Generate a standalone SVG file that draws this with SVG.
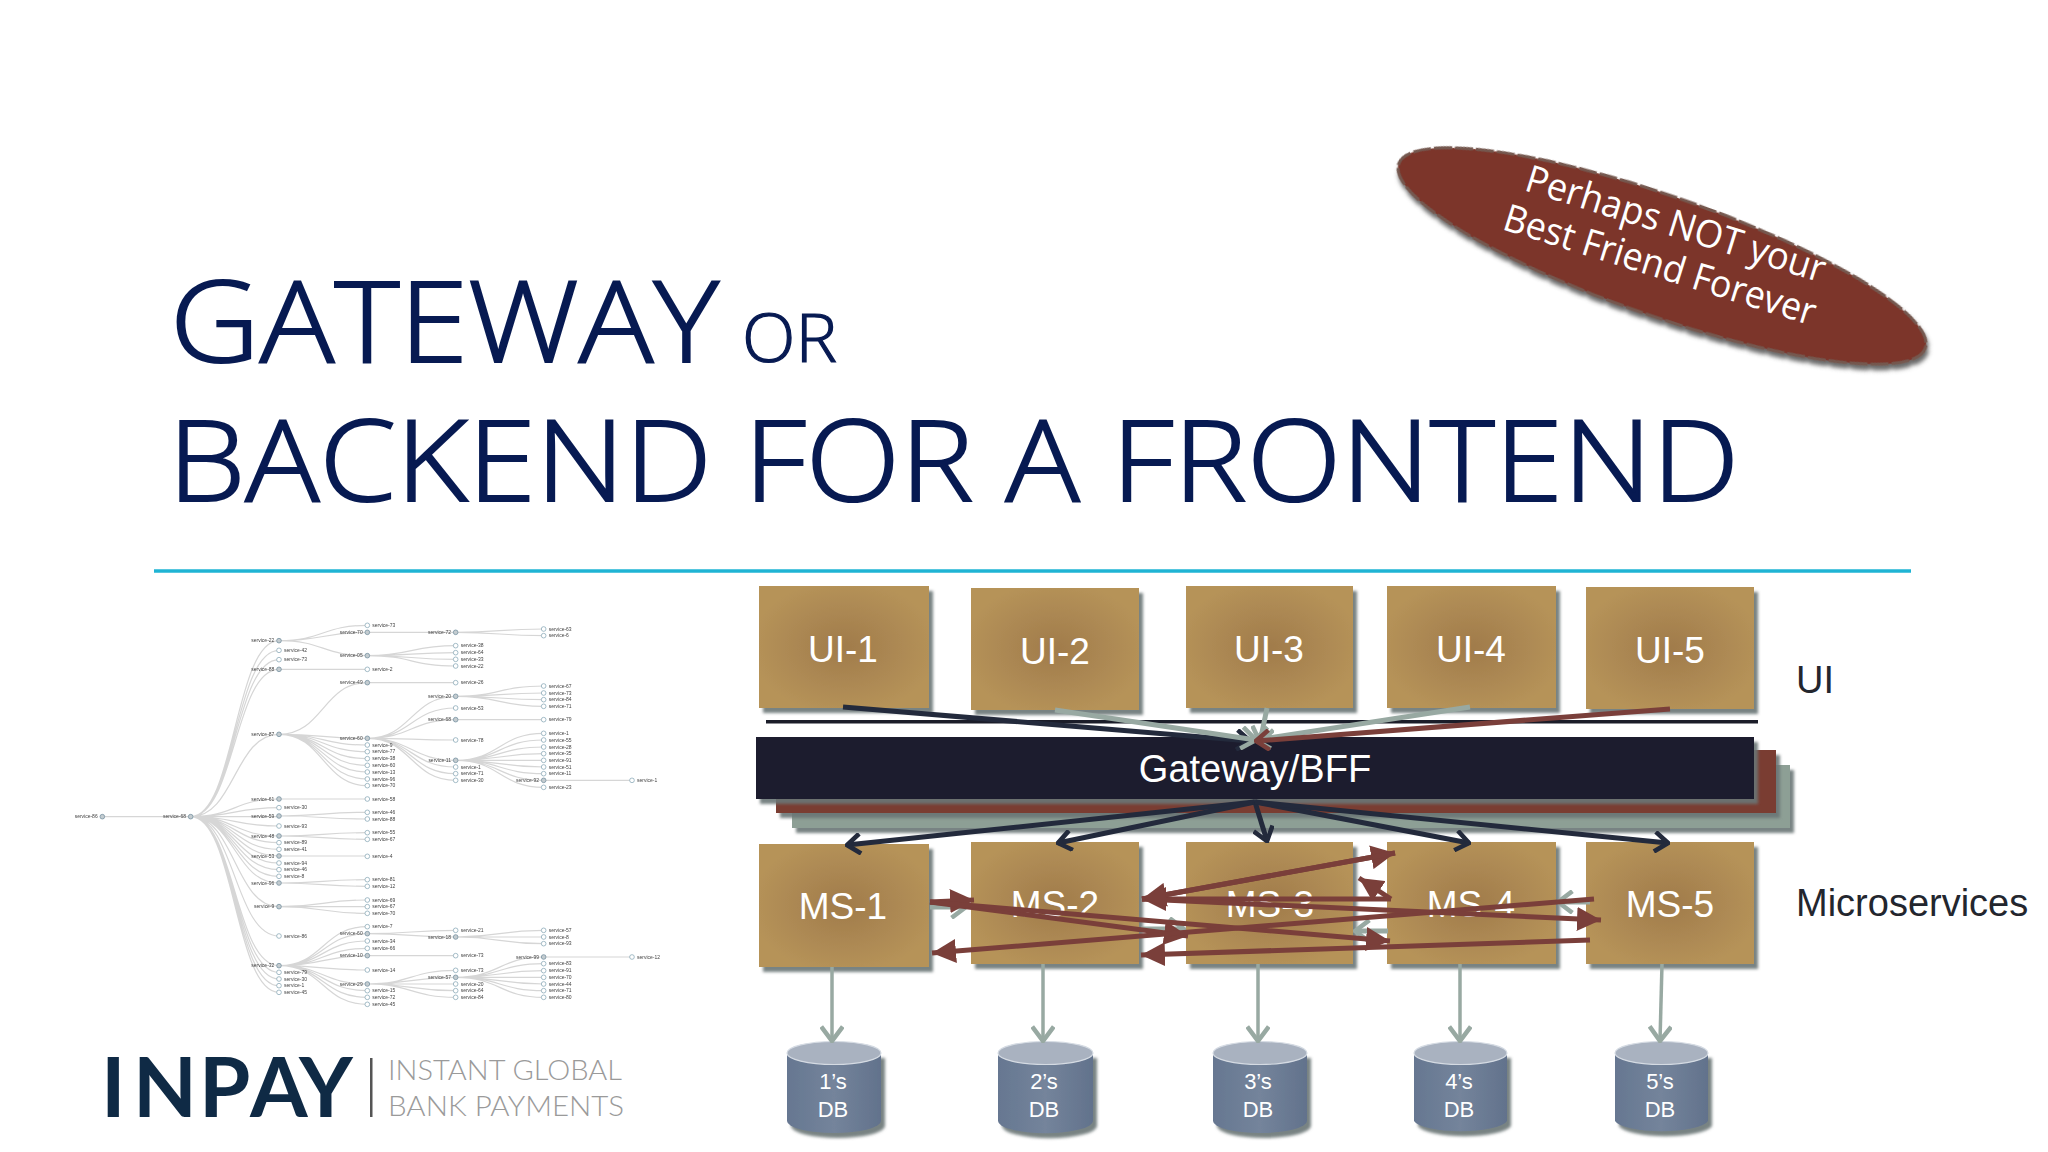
<svg xmlns="http://www.w3.org/2000/svg" width="2048" height="1152" viewBox="0 0 2048 1152">
<style>
.title{font-family:"Open Sans","Liberation Sans",sans-serif;font-weight:300;fill:#071a52;stroke:#071a52;stroke-width:2px}
.wt{font-family:"Liberation Sans",Arial,sans-serif;fill:#fff;text-anchor:middle}
.ui{font-size:37px}.db{font-size:22px}
.side{font-family:"Liberation Sans",Arial,sans-serif;fill:#23262e;font-size:38px}
.box{fill:url(#tan);filter:url(#sh)}
.cyl{fill:url(#cy);filter:url(#sh)}
.top{fill:#a9b2c0;stroke:#d5dbe3;stroke-width:1.2}
.dk{fill:none;stroke:#232a3c;stroke-width:5;marker-end:url(#vd)}
.gr{fill:none;stroke:#98a9a2;stroke-width:5;marker-end:url(#vg)}
.gt{fill:none;stroke:#98a9a2;stroke-width:3.5;marker-end:url(#vg)}
.br{fill:none;stroke:#7a3f3a;stroke-width:5;marker-end:url(#tb)}
.brv{fill:none;stroke:#7a3f3a;stroke-width:5;marker-end:url(#vb)}
.sl{font-family:"Open Sans","Liberation Sans",sans-serif;fill:#fff;font-size:38px}
.tl{fill:none;stroke:#d6d6d6;stroke-width:3.6}
.n circle{r:7px;fill:#fff;stroke:#84a4b4;stroke-width:2.2}
.n.p circle{fill:#c4ccd0;stroke:#6f8c9c}
.n text{font-family:"Liberation Sans",Arial,sans-serif;font-size:15px;fill:#444}
.n text.l{text-anchor:end}
.logo{font-family:Lato,"Liberation Sans",sans-serif}
</style>
<defs>
<radialGradient id="tan" cx="50%" cy="50%" r="55%"><stop offset="0" stop-color="#a07b4b"/><stop offset="1" stop-color="#b69359"/></radialGradient>
<linearGradient id="cy" x1="0" x2="1" y1="0" y2="0"><stop offset="0" stop-color="#667791"/><stop offset=".5" stop-color="#74849b"/><stop offset="1" stop-color="#62728c"/></linearGradient>
<filter id="sh" x="-10%" y="-10%" width="125%" height="130%"><feDropShadow dx="4" dy="5" stdDeviation="1.4" flood-color="#6a7474" flood-opacity=".9"/></filter>
<filter id="esh" x="-10%" y="-20%" width="120%" height="140%"><feDropShadow dx="3" dy="4" stdDeviation="2" flood-color="#444" flood-opacity=".8"/></filter>
<filter id="soft"><feGaussianBlur stdDeviation=".45"/></filter>
<marker id="vd" viewBox="0 0 20 20" refX="18" refY="10" markerWidth="22" markerHeight="22" markerUnits="userSpaceOnUse" orient="auto"><path d="M6 1L18 10L6 19" fill="none" stroke="#232a3c" stroke-width="4.2"/></marker>
<marker id="vg" viewBox="0 0 20 20" refX="18" refY="10" markerWidth="24" markerHeight="24" markerUnits="userSpaceOnUse" orient="auto"><path d="M6 1L18 10L6 19" fill="none" stroke="#98a9a2" stroke-width="3.8"/></marker>
<marker id="vb" viewBox="0 0 20 20" refX="18" refY="10" markerWidth="22" markerHeight="22" markerUnits="userSpaceOnUse" orient="auto"><path d="M6 1L18 10L6 19" fill="none" stroke="#7a3f3a" stroke-width="4.2"/></marker>
<marker id="tb" viewBox="0 0 20 20" refX="20" refY="10" markerWidth="24" markerHeight="24" markerUnits="userSpaceOnUse" orient="auto"><path d="M0 0L20 10L0 20Z" fill="#7a3f3a"/></marker>
</defs>
<rect width="2048" height="1152" fill="#fff"/>

<g id="title">
<text class="title" x="170" y="362" font-size="113" textLength="549" lengthAdjust="spacingAndGlyphs">GATEWAY</text>
<text class="title" x="742" y="362" font-size="66" textLength="95" lengthAdjust="spacingAndGlyphs" style="stroke-width:1.2px">OR</text>
<text class="title" x="168" y="501" font-size="113" textLength="1571" lengthAdjust="spacingAndGlyphs">BACKEND FOR A FRONTEND</text>
<line x1="154" y1="571" x2="1911" y2="571" stroke="#1fb4d4" stroke-width="3.5"/>
</g>

<g id="badge">
<ellipse cx="1662" cy="256" rx="279" ry="60" transform="rotate(19.3 1662 256)" fill="#7c3429" stroke="#74584f" stroke-width="3" stroke-dasharray="18 3" filter="url(#esh)"/>
<text class="sl" transform="translate(1523 190) rotate(17.3)" textLength="312" lengthAdjust="spacingAndGlyphs">Perhaps NOT your</text>
<text class="sl" transform="translate(1501 229) rotate(17.3)" textLength="325" lengthAdjust="spacingAndGlyphs">Best Friend Forever</text>
</g>

<g id="tree" transform="translate(60 610) scale(.33333)" filter="url(#soft)">
<g id="tree-links">
<path class="tl" d="M127 620H392"/>
<path class="tl" d="M392 620C524 620 524 92 657 92M392 620C524 620 524 121 657 121M392 620C524 620 524 149 657 149M392 620C524 620 524 178 657 178M392 620C524 620 524 373 657 373M392 620C524 620 524 567 657 567M392 620C524 620 524 593 657 593M392 620H657M392 620C524 620 524 648 657 648M392 620C524 620 524 678 657 678M392 620C524 620 524 698 657 698M392 620C524 620 524 718 657 718M392 620C524 620 524 738 657 738M392 620C524 620 524 759 657 759M392 620C524 620 524 779 657 779M392 620C524 620 524 799 657 799M392 620C524 620 524 819 657 819M392 620C524 620 524 890 657 890M392 620C524 620 524 978 657 978M392 620C524 620 524 1067 657 1067M392 620C524 620 524 1087 657 1087M392 620C524 620 524 1107 657 1107M392 620C524 620 524 1127 657 1127M392 620C524 620 524 1147 657 1147"/>
<path class="tl" d="M657 92C789 92 789 46 922 46M657 92C789 92 789 67 922 67M657 92C789 92 789 137 922 137M657 178H922M657 373C789 373 789 218 922 218M657 373C789 373 789 385 922 385M657 373C789 373 789 405 922 405M657 373C789 373 789 425 922 425M657 373C789 373 789 446 922 446M657 373C789 373 789 466 922 466M657 373C789 373 789 486 922 486M657 373C789 373 789 507 922 507M657 373C789 373 789 527 922 527M657 567H922M657 618C789 618 789 607 922 607M657 618C789 618 789 627 922 627M657 678C789 678 789 668 922 668M657 678C789 678 789 688 922 688M657 738H922M657 819C789 819 789 809 922 809M657 819C789 819 789 829 922 829M657 890C789 890 789 870 922 870M657 890H922M657 890C789 890 789 910 922 910M657 1067C789 1067 789 950 922 950M657 1067C789 1067 789 971 922 971M657 1067C789 1067 789 993 922 993M657 1067C789 1067 789 1015 922 1015M657 1067C789 1067 789 1037 922 1037M657 1067C789 1067 789 1080 922 1080M657 1067C789 1067 789 1122 922 1122M657 1067C789 1067 789 1142 922 1142M657 1067C789 1067 789 1162 922 1162M657 1067C789 1067 789 1183 922 1183"/>
<path class="tl" d="M922 67H1187M922 137C1054 137 1054 107 1187 107M922 137C1054 137 1054 128 1187 128M922 137C1054 137 1054 148 1187 148M922 137C1054 137 1054 168 1187 168M922 218H1187M922 385C1054 385 1054 259 1187 259M922 385C1054 385 1054 294 1187 294M922 385C1054 385 1054 329 1187 329M922 385C1054 385 1054 390 1187 390M922 385C1054 385 1054 451 1187 451M922 385C1054 385 1054 471 1187 471M922 385C1054 385 1054 491 1187 491M922 385C1054 385 1054 511 1187 511M922 971C1054 971 1054 961 1187 961M922 971C1054 971 1054 981 1187 981M922 1037H1187M922 1122C1054 1122 1054 1081 1187 1081M922 1122C1054 1122 1054 1102 1187 1102M922 1122H1187M922 1122C1054 1122 1054 1142 1187 1142M922 1122C1054 1122 1054 1162 1187 1162"/>
<path class="tl" d="M1187 67C1319 67 1319 57 1451 57M1187 67C1319 67 1319 77 1451 77M1187 259C1319 259 1319 228 1451 228M1187 259C1319 259 1319 249 1451 249M1187 259C1319 259 1319 269 1451 269M1187 259C1319 259 1319 289 1451 289M1187 329H1451M1187 451C1319 451 1319 370 1451 370M1187 451C1319 451 1319 390 1451 390M1187 451C1319 451 1319 411 1451 411M1187 451C1319 451 1319 431 1451 431M1187 451H1451M1187 451C1319 451 1319 471 1451 471M1187 451C1319 451 1319 491 1451 491M1187 451C1319 451 1319 511 1451 511M1187 451C1319 451 1319 532 1451 532M1187 981C1319 981 1319 961 1451 961M1187 981H1451M1187 981C1319 981 1319 1001 1451 1001M1187 1102C1319 1102 1319 1041 1451 1041M1187 1102C1319 1102 1319 1061 1451 1061M1187 1102C1319 1102 1319 1082 1451 1082M1187 1102H1451M1187 1102C1319 1102 1319 1122 1451 1122M1187 1102C1319 1102 1319 1142 1451 1142M1187 1102C1319 1102 1319 1162 1451 1162"/>
<path class="tl" d="M1451 511H1716M1451 1041H1716"/>
</g>
<g id="tree-col0"><g class="n p" transform="translate(127 620)"><circle/><text class="l" x="-14" y="5">service-86</text></g></g>
<g id="tree-col1"><g class="n p" transform="translate(392 620)"><circle/><text class="l" x="-14" y="5">service-68</text></g></g>
<g id="tree-col2">
<g class="n p" transform="translate(657 92)"><circle/><text class="l" x="-14" y="5">service-22</text></g>
<g class="n" transform="translate(657 121)"><circle/><text x="15" y="5">service-42</text></g>
<g class="n" transform="translate(657 149)"><circle/><text x="15" y="5">service-73</text></g>
<g class="n p" transform="translate(657 178)"><circle/><text class="l" x="-14" y="5">service-88</text></g>
<g class="n p" transform="translate(657 373)"><circle/><text class="l" x="-14" y="5">service-87</text></g>
<g class="n p" transform="translate(657 567)"><circle/><text class="l" x="-14" y="5">service-61</text></g>
<g class="n" transform="translate(657 593)"><circle/><text x="15" y="5">service-30</text></g>
<g class="n p" transform="translate(657 618)"><circle/><text class="l" x="-14" y="5">service-59</text></g>
<g class="n" transform="translate(657 648)"><circle/><text x="15" y="5">service-93</text></g>
<g class="n p" transform="translate(657 678)"><circle/><text class="l" x="-14" y="5">service-48</text></g>
<g class="n" transform="translate(657 698)"><circle/><text x="15" y="5">service-89</text></g>
<g class="n" transform="translate(657 718)"><circle/><text x="15" y="5">service-41</text></g>
<g class="n p" transform="translate(657 738)"><circle/><text class="l" x="-14" y="5">service-53</text></g>
<g class="n" transform="translate(657 759)"><circle/><text x="15" y="5">service-94</text></g>
<g class="n" transform="translate(657 779)"><circle/><text x="15" y="5">service-46</text></g>
<g class="n" transform="translate(657 799)"><circle/><text x="15" y="5">service-8</text></g>
<g class="n p" transform="translate(657 819)"><circle/><text class="l" x="-14" y="5">service-96</text></g>
<g class="n p" transform="translate(657 890)"><circle/><text class="l" x="-14" y="5">service-9</text></g>
<g class="n" transform="translate(657 978)"><circle/><text x="15" y="5">service-86</text></g>
<g class="n p" transform="translate(657 1067)"><circle/><text class="l" x="-14" y="5">service-32</text></g>
<g class="n" transform="translate(657 1087)"><circle/><text x="15" y="5">service-79</text></g>
<g class="n" transform="translate(657 1107)"><circle/><text x="15" y="5">service-30</text></g>
<g class="n" transform="translate(657 1127)"><circle/><text x="15" y="5">service-1</text></g>
<g class="n" transform="translate(657 1147)"><circle/><text x="15" y="5">service-45</text></g>
</g>
<g id="tree-col3">
<g class="n" transform="translate(922 46)"><circle/><text x="15" y="5">service-73</text></g>
<g class="n p" transform="translate(922 67)"><circle/><text class="l" x="-14" y="5">service-70</text></g>
<g class="n p" transform="translate(922 137)"><circle/><text class="l" x="-14" y="5">service-05</text></g>
<g class="n" transform="translate(922 178)"><circle/><text x="15" y="5">service-2</text></g>
<g class="n p" transform="translate(922 218)"><circle/><text class="l" x="-14" y="5">service-49</text></g>
<g class="n p" transform="translate(922 385)"><circle/><text class="l" x="-14" y="5">service-60</text></g>
<g class="n" transform="translate(922 405)"><circle/><text x="15" y="5">service-9</text></g>
<g class="n" transform="translate(922 425)"><circle/><text x="15" y="5">service-77</text></g>
<g class="n" transform="translate(922 446)"><circle/><text x="15" y="5">service-38</text></g>
<g class="n" transform="translate(922 466)"><circle/><text x="15" y="5">service-60</text></g>
<g class="n" transform="translate(922 486)"><circle/><text x="15" y="5">service-13</text></g>
<g class="n" transform="translate(922 507)"><circle/><text x="15" y="5">service-96</text></g>
<g class="n" transform="translate(922 527)"><circle/><text x="15" y="5">service-70</text></g>
<g class="n" transform="translate(922 567)"><circle/><text x="15" y="5">service-58</text></g>
<g class="n" transform="translate(922 607)"><circle/><text x="15" y="5">service-46</text></g>
<g class="n" transform="translate(922 627)"><circle/><text x="15" y="5">service-88</text></g>
<g class="n" transform="translate(922 668)"><circle/><text x="15" y="5">service-55</text></g>
<g class="n" transform="translate(922 688)"><circle/><text x="15" y="5">service-67</text></g>
<g class="n" transform="translate(922 739)"><circle/><text x="15" y="5">service-4</text></g>
<g class="n" transform="translate(922 809)"><circle/><text x="15" y="5">service-81</text></g>
<g class="n" transform="translate(922 829)"><circle/><text x="15" y="5">service-12</text></g>
<g class="n" transform="translate(922 870)"><circle/><text x="15" y="5">service-69</text></g>
<g class="n" transform="translate(922 890)"><circle/><text x="15" y="5">service-67</text></g>
<g class="n" transform="translate(922 910)"><circle/><text x="15" y="5">service-70</text></g>
<g class="n" transform="translate(922 950)"><circle/><text x="15" y="5">service-7</text></g>
<g class="n p" transform="translate(922 971)"><circle/><text class="l" x="-14" y="5">service-60</text></g>
<g class="n" transform="translate(922 993)"><circle/><text x="15" y="5">service-34</text></g>
<g class="n" transform="translate(922 1015)"><circle/><text x="15" y="5">service-66</text></g>
<g class="n p" transform="translate(922 1037)"><circle/><text class="l" x="-14" y="5">service-10</text></g>
<g class="n" transform="translate(922 1080)"><circle/><text x="15" y="5">service-14</text></g>
<g class="n p" transform="translate(922 1122)"><circle/><text class="l" x="-14" y="5">service-29</text></g>
<g class="n" transform="translate(922 1142)"><circle/><text x="15" y="5">service-15</text></g>
<g class="n" transform="translate(922 1162)"><circle/><text x="15" y="5">service-72</text></g>
<g class="n" transform="translate(922 1183)"><circle/><text x="15" y="5">service-45</text></g>
</g>
<g id="tree-col4">
<g class="n p" transform="translate(1187 67)"><circle/><text class="l" x="-14" y="5">service-72</text></g>
<g class="n" transform="translate(1187 107)"><circle/><text x="15" y="5">service-38</text></g>
<g class="n" transform="translate(1187 128)"><circle/><text x="15" y="5">service-64</text></g>
<g class="n" transform="translate(1187 148)"><circle/><text x="15" y="5">service-33</text></g>
<g class="n" transform="translate(1187 168)"><circle/><text x="15" y="5">service-22</text></g>
<g class="n" transform="translate(1187 218)"><circle/><text x="15" y="5">service-26</text></g>
<g class="n p" transform="translate(1187 259)"><circle/><text class="l" x="-14" y="5">service-20</text></g>
<g class="n" transform="translate(1187 294)"><circle/><text x="15" y="5">service-53</text></g>
<g class="n p" transform="translate(1187 329)"><circle/><text class="l" x="-14" y="5">service-68</text></g>
<g class="n" transform="translate(1187 390)"><circle/><text x="15" y="5">service-78</text></g>
<g class="n p" transform="translate(1187 451)"><circle/><text class="l" x="-14" y="5">service-11</text></g>
<g class="n" transform="translate(1187 471)"><circle/><text x="15" y="5">service-1</text></g>
<g class="n" transform="translate(1187 491)"><circle/><text x="15" y="5">service-71</text></g>
<g class="n" transform="translate(1187 511)"><circle/><text x="15" y="5">service-30</text></g>
<g class="n" transform="translate(1187 961)"><circle/><text x="15" y="5">service-21</text></g>
<g class="n p" transform="translate(1187 981)"><circle/><text class="l" x="-14" y="5">service-18</text></g>
<g class="n" transform="translate(1187 1037)"><circle/><text x="15" y="5">service-73</text></g>
<g class="n" transform="translate(1187 1081)"><circle/><text x="15" y="5">service-73</text></g>
<g class="n p" transform="translate(1187 1102)"><circle/><text class="l" x="-14" y="5">service-57</text></g>
<g class="n" transform="translate(1187 1122)"><circle/><text x="15" y="5">service-20</text></g>
<g class="n" transform="translate(1187 1142)"><circle/><text x="15" y="5">service-64</text></g>
<g class="n" transform="translate(1187 1162)"><circle/><text x="15" y="5">service-84</text></g>
</g>
<g id="tree-col5">
<g class="n" transform="translate(1451 57)"><circle/><text x="15" y="5">service-63</text></g>
<g class="n" transform="translate(1451 77)"><circle/><text x="15" y="5">service-6</text></g>
<g class="n" transform="translate(1451 228)"><circle/><text x="15" y="5">service-67</text></g>
<g class="n" transform="translate(1451 249)"><circle/><text x="15" y="5">service-73</text></g>
<g class="n" transform="translate(1451 269)"><circle/><text x="15" y="5">service-84</text></g>
<g class="n" transform="translate(1451 289)"><circle/><text x="15" y="5">service-71</text></g>
<g class="n" transform="translate(1451 329)"><circle/><text x="15" y="5">service-79</text></g>
<g class="n" transform="translate(1451 370)"><circle/><text x="15" y="5">service-1</text></g>
<g class="n" transform="translate(1451 390)"><circle/><text x="15" y="5">service-55</text></g>
<g class="n" transform="translate(1451 411)"><circle/><text x="15" y="5">service-28</text></g>
<g class="n" transform="translate(1451 431)"><circle/><text x="15" y="5">service-35</text></g>
<g class="n" transform="translate(1451 451)"><circle/><text x="15" y="5">service-91</text></g>
<g class="n" transform="translate(1451 471)"><circle/><text x="15" y="5">service-51</text></g>
<g class="n" transform="translate(1451 491)"><circle/><text x="15" y="5">service-11</text></g>
<g class="n p" transform="translate(1451 511)"><circle/><text class="l" x="-14" y="5">service-92</text></g>
<g class="n" transform="translate(1451 532)"><circle/><text x="15" y="5">service-23</text></g>
<g class="n" transform="translate(1451 961)"><circle/><text x="15" y="5">service-57</text></g>
<g class="n" transform="translate(1451 981)"><circle/><text x="15" y="5">service-8</text></g>
<g class="n" transform="translate(1451 1001)"><circle/><text x="15" y="5">service-93</text></g>
<g class="n p" transform="translate(1451 1041)"><circle/><text class="l" x="-14" y="5">service-99</text></g>
<g class="n" transform="translate(1451 1061)"><circle/><text x="15" y="5">service-83</text></g>
<g class="n" transform="translate(1451 1082)"><circle/><text x="15" y="5">service-91</text></g>
<g class="n" transform="translate(1451 1102)"><circle/><text x="15" y="5">service-70</text></g>
<g class="n" transform="translate(1451 1122)"><circle/><text x="15" y="5">service-44</text></g>
<g class="n" transform="translate(1451 1142)"><circle/><text x="15" y="5">service-71</text></g>
<g class="n" transform="translate(1451 1162)"><circle/><text x="15" y="5">service-80</text></g>
</g>
<g id="tree-col6">
<g class="n" transform="translate(1716 511)"><circle/><text x="15" y="5">service-1</text></g>
<g class="n" transform="translate(1716 1041)"><circle/><text x="15" y="5">service-12</text></g>
</g>
</g>

<g id="logo" class="logo">
<text x="101 133 199 250 299" y="1117" font-size="83" font-weight="700" fill="#0f2a45">INPAY</text>
<rect x="370" y="1058" width="2.5" height="59" fill="#555"/>
<text x="388" y="1080" font-size="28" font-weight="300" fill="#9a9a9a" textLength="234" lengthAdjust="spacingAndGlyphs">INSTANT GLOBAL</text>
<text x="388" y="1116" font-size="28" font-weight="300" fill="#9a9a9a" textLength="236" lengthAdjust="spacingAndGlyphs">BANK PAYMENTS</text>
</g>

<g id="ui-1"><rect class="box" x="759" y="586" width="170" height="122"/><text class="wt ui" x="843" y="662">UI-1</text></g>
<g id="ui-2"><rect class="box" x="971" y="588" width="168" height="122"/><text class="wt ui" x="1055" y="664">UI-2</text></g>
<g id="ui-3"><rect class="box" x="1186" y="586" width="167" height="122"/><text class="wt ui" x="1269" y="662">UI-3</text></g>
<g id="ui-4"><rect class="box" x="1387" y="586" width="169" height="122"/><text class="wt ui" x="1471" y="662">UI-4</text></g>
<g id="ui-5"><rect class="box" x="1586" y="587" width="168" height="122"/><text class="wt ui" x="1670" y="663">UI-5</text></g>
<g id="ui-rule"><rect x="766" y="720" width="992" height="3.5" fill="#1b1d29"/></g>
<text id="label-ui" class="side" x="1796" y="693">UI</text>

<g id="gateway">
<rect x="792" y="765" width="998" height="63" fill="#8d9f95" filter="url(#sh)"/>
<rect x="776" y="750" width="1000" height="63" fill="#7a3d32" filter="url(#sh)"/>
<rect x="756" y="737" width="998" height="62" fill="#1f1f2d" filter="url(#sh)"/>
<text class="wt" x="1255" y="782" font-size="38">Gateway/BFF</text>
</g>

<g id="ms-1"><rect class="box" x="759" y="844" width="170" height="123"/><text class="wt ui" x="843" y="919">MS-1</text></g>
<g id="ms-2"><rect class="box" x="971" y="842" width="168" height="122"/><text class="wt ui" x="1055" y="917">MS-2</text></g>
<g id="ms-3"><rect class="box" x="1186" y="842" width="167" height="122"/><text class="wt ui" x="1270" y="917">MS-3</text></g>
<g id="ms-4"><rect class="box" x="1387" y="842" width="169" height="122"/><text class="wt ui" x="1471" y="917">MS-4</text></g>
<g id="ms-5"><rect class="box" x="1586" y="842" width="168" height="122"/><text class="wt ui" x="1670" y="917">MS-5</text></g>
<text id="label-ms" class="side" x="1796" y="916">Microservices</text>

<g id="db-1"><path class="cyl" d="M787 1053V1121A47 12 0 0 0 881 1121V1053Z"/><ellipse class="top" cx="834" cy="1053" rx="47" ry="11.5"/><text class="wt db" x="833" y="1089">1’s</text><text class="wt db" x="833" y="1117">DB</text></g>
<g id="db-2"><path class="cyl" d="M998 1053V1121A47 12 0 0 0 1093 1121V1053Z"/><ellipse class="top" cx="1045.500" cy="1053" rx="47.500" ry="11.5"/><text class="wt db" x="1044" y="1089">2’s</text><text class="wt db" x="1044" y="1117">DB</text></g>
<g id="db-3"><path class="cyl" d="M1213 1053V1121A47 12 0 0 0 1307 1121V1053Z"/><ellipse class="top" cx="1260" cy="1053" rx="47" ry="11.5"/><text class="wt db" x="1258" y="1089">3’s</text><text class="wt db" x="1258" y="1117">DB</text></g>
<g id="db-4"><path class="cyl" d="M1414 1053V1121A47 12 0 0 0 1507 1121V1053Z"/><ellipse class="top" cx="1460.500" cy="1053" rx="46.500" ry="11.5"/><text class="wt db" x="1459" y="1089">4’s</text><text class="wt db" x="1459" y="1117">DB</text></g>
<g id="db-5"><path class="cyl" d="M1615 1053V1121A47 12 0 0 0 1708 1121V1053Z"/><ellipse class="top" cx="1661.500" cy="1053" rx="46.500" ry="11.5"/><text class="wt db" x="1660" y="1089">5’s</text><text class="wt db" x="1660" y="1117">DB</text></g>

<g id="connectors">
<path class="dk" d="M843 707L1250 741"/>
<path class="gr" d="M1055 710L1256 740"/>
<path class="gr" d="M1267 708L1260 742"/>
<path class="gr" d="M1470 707L1255 740"/>
<path class="brv" d="M1670 709L1256 741"/>
<path class="dk" d="M1255 802L847 845"/>
<path class="dk" d="M1255 802L1058 843"/>
<path class="dk" d="M1255 802L1267 841"/>
<path class="dk" d="M1255 802L1469 843"/>
<path class="dk" d="M1255 802L1668 843"/>
<path class="gr" d="M930 907L966 907"/>
<path class="gr" d="M1141 929L1184 929"/>
<path class="gr" d="M1388 931L1355 931"/>
<path class="gr" d="M1590 902L1558 902"/>
<path class="br" d="M930 902L974 900"/>
<path class="br" d="M930 902L1188 936"/>
<path class="br" d="M930 902L1390 941"/>
<path class="br" d="M1594 899L932 953"/>
<path class="br" d="M1590 940L1141 955"/>
<path class="br" d="M1391 899L1142 899"/>
<path class="br" d="M1142 899L1601 920"/>
<path class="br" d="M1142 899L1395 853"/>
<path class="br" d="M1395 853L1142 899"/>
<path class="br" d="M1391 899L1359 878"/>
<path class="gt" d="M832 967V1041"/>
<path class="gt" d="M1043 964V1041"/>
<path class="gt" d="M1258 964V1041"/>
<path class="gt" d="M1460 964V1041"/>
<path class="gt" d="M1662 964L1660 1041"/>
</g>
</svg>
